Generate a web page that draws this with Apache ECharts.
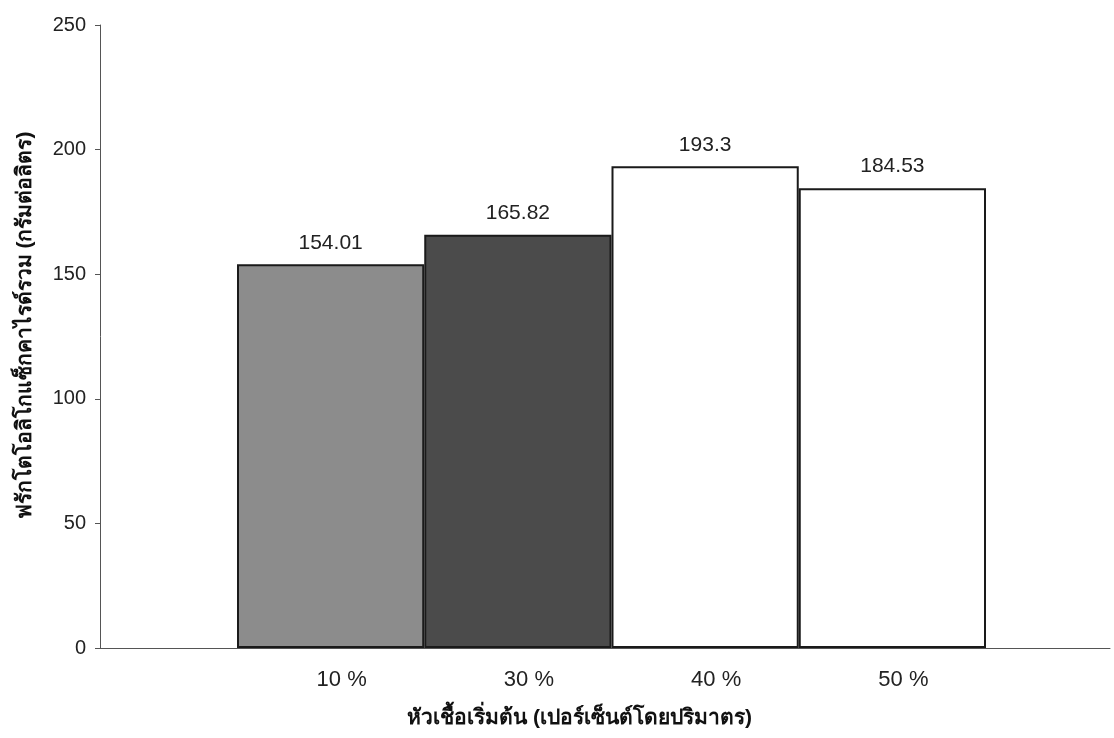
<!DOCTYPE html>
<html>
<head>
<meta charset="utf-8">
<script src="https://cdn.jsdelivr.net/npm/echarts@6/dist/echarts.min.js"></script>
<style>
  html, body { margin: 0; padding: 0; background: #ffffff; }
  #chart { width: 1114px; height: 738px; }
</style>
</head>
<body>
<div id="chart"></div>
<script>
// Starter culture levels (percent by volume)
const categories = ['10 %', '30 %', '40 %', '50 %'];
// Total fructooligosaccharides (g/L)
const values = [154.01, 165.82, 193.3, 184.53];
const barColors = ['#8c8c8c', '#4b4b4b', '#ffffff', '#ffffff'];
const yTicks = [0, 50, 100, 150, 200, 250];

const yTitle = 'ฟรักโตโอลิโกแซ็กคาไรด์รวม (กรัมต่อลิตร)';
const xTitle = 'หัวเชื้อเริ่มต้น (เปอร์เซ็นต์โดยปริมาตร)';

const font = '"Liberation Sans", Arial, "DejaVu Sans", sans-serif';

const chart = echarts.init(document.getElementById('chart'));
chart.setOption({
  backgroundColor: '#ffffff',
  animation: false,
  textStyle: { fontFamily: font },
  grid: [
    // full plot frame carrying the axis lines
    { left: 100, right: 4, top: 25, bottom: 90 },
    // inner band where the four bars sit
    { left: 237, width: 749, top: 25, bottom: 90 }
  ],
  xAxis: [
    {
      gridIndex: 0, type: 'category', data: [''],
      axisLine: { lineStyle: { color: '#555', width: 1 } },
      axisTick: { show: false }, axisLabel: { show: false }
    },
    {
      gridIndex: 1, type: 'category', data: categories,
      axisLine: { show: false }, axisTick: { show: false },
      axisLabel: { color: '#222', fontSize: 22, margin: 21, padding: [0, 0, 0, 22] },
      name: xTitle, nameLocation: 'middle', nameGap: 60,
      nameTextStyle: { color: '#111', fontSize: 21, fontWeight: 'bold', padding: [0, 64, 0, 0] }
    }
  ],
  yAxis: [
    {
      gridIndex: 0, type: 'value', min: yTicks[0], max: yTicks[yTicks.length - 1], interval: 50,
      axisLine: { show: true, lineStyle: { color: '#555', width: 1 } },
      axisTick: { show: true, length: 5, lineStyle: { color: '#555' } },
      axisLabel: { color: '#222', fontSize: 20, margin: 14 },
      splitLine: { show: false },
      name: yTitle, nameLocation: 'middle', nameGap: 64, nameRotate: 90,
      nameTextStyle: { color: '#111', fontSize: 21, fontWeight: 'bold', padding: [0, 0, 0, 22] }
    },
    {
      gridIndex: 1, type: 'value', min: yTicks[0], max: yTicks[yTicks.length - 1], interval: 50,
      show: false, splitLine: { show: false }
    }
  ],
  series: [{
    type: 'bar',
    xAxisIndex: 1, yAxisIndex: 1,
    barCategoryGap: '0%',
    data: values.map((v, i) => ({
      value: v,
      itemStyle: { color: barColors[i], borderColor: '#1a1a1a', borderWidth: 2 }
    })),
    label: {
      show: true, position: 'top', distance: 11,
      color: '#222', fontSize: 21,
      formatter: p => String(p.value)
    }
  }]
});
</script>
</body>
</html>
